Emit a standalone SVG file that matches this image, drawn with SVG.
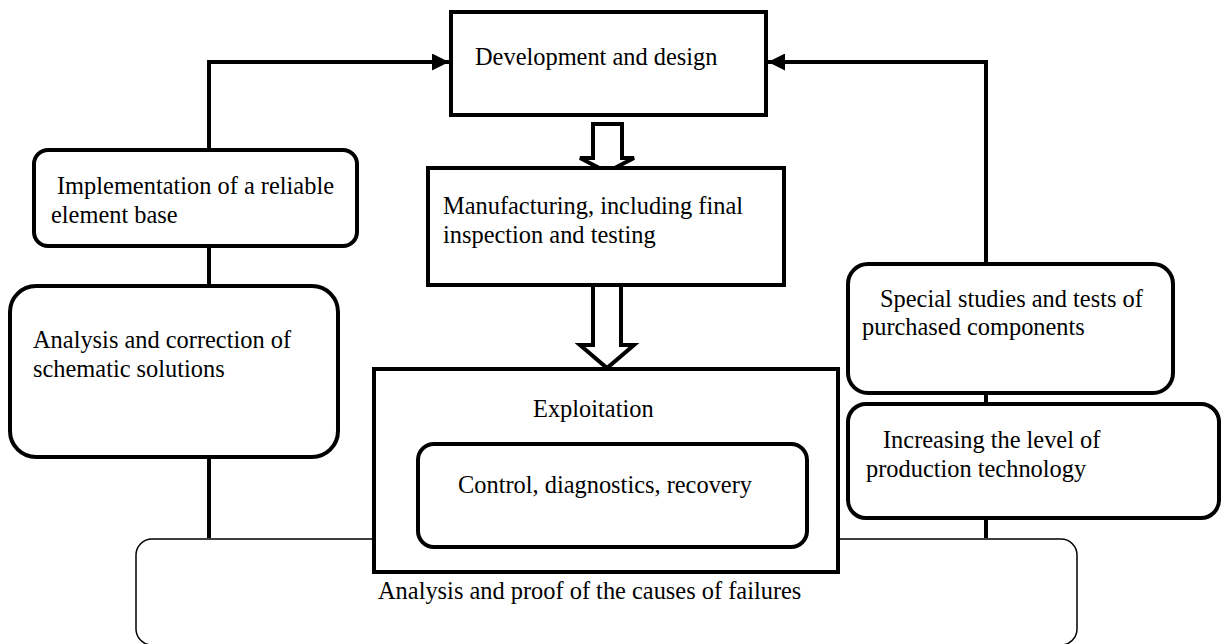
<svg xmlns="http://www.w3.org/2000/svg" width="1221" height="644" viewBox="0 0 1221 644">
  <defs>
    <style>
      .box { fill: #fff; stroke: #000; stroke-width: 4; }
      .thin { fill: #fff; stroke: #000; stroke-width: 1.5; }
      .line { fill: none; stroke: #000; stroke-width: 4; }
      .hollow { fill: #fff; stroke: #000; stroke-width: 4; stroke-linejoin: miter; }
      text { font-family: "Liberation Serif", "Times New Roman", serif; font-size: 24.4px; fill: #000; }
    </style>
    <marker id="ah" viewBox="0 0 10 10" refX="10" refY="5" markerWidth="18" markerHeight="17" markerUnits="userSpaceOnUse" orient="auto">
      <path d="M0,0 L10,5 L0,10 Z" fill="#000"/>
    </marker>
  </defs>
  <rect width="1221" height="644" fill="#fff"/>

  <g id="bottom-box">
    <rect class="thin" x="136" y="539" width="941" height="106" rx="16"/>
    <text x="378" y="599">Analysis and proof of the causes of failures</text>
  </g>

  <g id="connectors">
    <polyline class="line" points="209,538 209,62 449,62" marker-end="url(#ah)"/>
    <polyline class="line" points="986,538 986,62 768,62" marker-end="url(#ah)"/>
    <polygon class="hollow" points="593,124 622,124 622,158 634,158 607,172 580,158 593,158"/>
    <polygon class="hollow" points="593,280 621,280 621,345 634,345 607,368 580,345 593,345"/>
  </g>

  <g id="development">
    <rect class="box" x="451" y="12" width="315" height="103"/>
    <text x="475" y="65">Development and design</text>
  </g>

  <g id="manufacturing">
    <rect class="box" x="428" y="168" width="356" height="117"/>
    <text x="443" y="214">Manufacturing, including final</text>
    <text x="443" y="243">inspection and testing</text>
  </g>

  <g id="implementation">
    <rect class="box" x="34" y="150" width="323" height="96" rx="14"/>
    <text x="57" y="194">Implementation of a reliable</text>
    <text x="51" y="223">element base</text>
  </g>

  <g id="analysis-correction">
    <rect class="box" x="10" y="286" width="328" height="171" rx="26"/>
    <text x="33" y="348">Analysis and correction of</text>
    <text x="33" y="377">schematic solutions</text>
  </g>

  <g id="exploitation">
    <rect class="box" x="374" y="369" width="464" height="203"/>
    <text x="533" y="417">Exploitation</text>
  </g>

  <g id="control">
    <rect class="box" x="418" y="444" width="389" height="103" rx="16"/>
    <text x="458" y="493">Control, diagnostics, recovery</text>
  </g>

  <g id="special-studies">
    <rect class="box" x="848" y="264" width="325" height="129" rx="20"/>
    <text x="880" y="307">Special studies and tests of</text>
    <text x="862" y="335">purchased components</text>
  </g>

  <g id="increasing">
    <rect class="box" x="848" y="404" width="371" height="114" rx="18"/>
    <text x="883" y="448">Increasing the level of</text>
    <text x="866" y="477">production technology</text>
  </g>
</svg>
